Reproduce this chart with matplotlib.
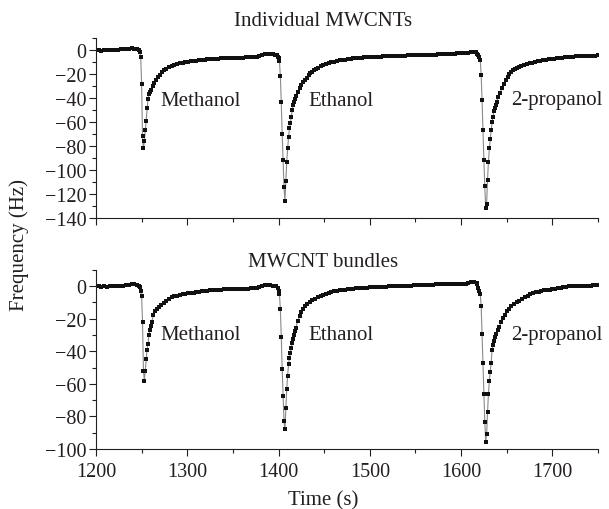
import matplotlib
matplotlib.use("Agg")
import matplotlib.pyplot as plt
from matplotlib.ticker import MultipleLocator

# frequency shift readings (time in s, frequency in Hz)
t_top = [1200, 1203, 1206, 1209, 1212, 1215, 1218, 1221, 1224, 1227, 1230, 1233, 1236, 1239, 1242, 1245,
         1247, 1248, 1249, 1250, 1251, 1252, 1253, 1254, 1255, 1256, 1257, 1258, 1259, 1260, 1262, 1264,
         1266, 1268, 1270, 1272, 1274, 1277, 1280, 1283, 1286, 1289, 1292, 1295, 1298, 1301, 1304, 1307,
         1310, 1313, 1316, 1319, 1322, 1325, 1328, 1331, 1334, 1337, 1340, 1343, 1346, 1349, 1352, 1355,
         1358, 1361, 1364, 1367, 1370, 1373, 1376, 1379, 1382, 1385, 1388, 1391, 1394, 1396, 1398, 1399,
         1400, 1401, 1402, 1403, 1404, 1405, 1406, 1407, 1408, 1409, 1410, 1411, 1412, 1413, 1414, 1415,
         1416, 1417, 1418, 1419, 1421, 1423, 1425, 1427, 1429, 1431, 1433, 1435, 1437, 1439, 1441, 1443,
         1446, 1449, 1452, 1455, 1458, 1461, 1464, 1467, 1470, 1473, 1476, 1479, 1482, 1485, 1488, 1491,
         1494, 1497, 1500, 1503, 1506, 1509, 1512, 1515, 1518, 1521, 1524, 1527, 1530, 1533, 1536, 1539,
         1542, 1545, 1548, 1551, 1554, 1557, 1560, 1563, 1566, 1569, 1572, 1575, 1578, 1581, 1584, 1587,
         1590, 1593, 1596, 1599, 1602, 1605, 1608, 1611, 1614, 1616, 1618, 1619, 1620, 1621, 1622, 1623,
         1624, 1625, 1626, 1627, 1628, 1629, 1630, 1631, 1632, 1633, 1634, 1635, 1636, 1637, 1638, 1639,
         1641, 1643, 1645, 1647, 1649, 1651, 1653, 1655, 1657, 1659, 1661, 1663, 1666, 1669, 1672, 1675,
         1678, 1681, 1684, 1687, 1690, 1693, 1696, 1699, 1702, 1705, 1708, 1711, 1714, 1717, 1720, 1723,
         1726, 1729, 1732, 1735, 1738, 1741, 1744, 1747, 1750]
f_top = [0, 0, -0.5, -0.3, 0, -0.3, 0, 0, 0.3, 0.5, 0.5, 1, 1.2, 1.5, 1.2, 0.8,
         0, -1.5, -6, -28, -72, -82, -76, -67, -59, -48, -41, -37, -35, -33, -30, -27.5,
         -25, -22.5, -20.5, -18.5, -17, -15.5, -14.3, -13.3, -12.5, -11.7, -11, -10.5, -10, -9.6, -9.3, -9,
         -8.8, -8.5, -8.3, -8, -7.8, -7.6, -7.5, -7.3, -7.2, -7, -7, -6.9, -6.8, -6.7, -6.6, -6.5,
         -6.5, -6.3, -6.2, -6.2, -6, -5.8, -5.5, -4.8, -4, -3.5, -3.4, -3.3, -3.5, -4, -4.5, -5.5,
         -7, -9.5, -21.5, -43.5, -70, -92, -114, -126, -109, -93, -82, -72.5, -65, -60.5, -55.5, -50,
         -46, -43, -40.5, -38.5, -35, -32, -29.5, -27, -25, -23, -21, -19.5, -18, -16.8, -15.7, -14.8,
         -13.5, -12.5, -11.7, -11, -10.3, -9.7, -9.2, -8.7, -8.3, -8, -7.6, -7.3, -7, -6.8, -6.6, -6.4,
         -6.2, -6.1, -6, -5.8, -5.7, -5.6, -5.5, -5.4, -5.3, -5.2, -5.1, -5, -4.9, -4.8, -4.7, -4.6,
         -4.5, -4.5, -4.4, -4.3, -4.2, -4.2, -4.1, -4, -4, -3.9, -3.8, -3.7, -3.6, -3.5, -3.4, -3.3,
         -3.2, -3, -2.9, -2.8, -2.7, -2.5, -2.3, -2, -1.8, -2, -3, -4, -5.5, -8, -20.5, -41.5,
         -67, -91.5, -113.5, -132, -128, -108, -93, -82, -74, -67, -60, -55.5, -51, -48.5, -45.5, -43,
         -39, -35.5, -31.5, -28, -25, -22.5, -20, -18.3, -17, -16, -15, -14.2, -13.3, -12.5, -11.8, -11.2,
         -10.6, -10, -9.5, -9, -8.6, -8.2, -7.8, -7.4, -7.1, -6.8, -6.6, -6.4, -6.2, -6, -5.8, -5.6,
         -5.4, -5.3, -5.1, -5, -4.9, -4.8, -4.7, -4.6, -4.5]

t_bot = [1200, 1203, 1206, 1209, 1212, 1215, 1218, 1221, 1224, 1227, 1230, 1233, 1236, 1239, 1242, 1245,
         1247, 1248, 1249, 1250, 1251, 1252, 1253, 1254, 1255, 1256, 1257, 1258, 1259, 1260, 1261, 1263,
         1265, 1267, 1269, 1271, 1274, 1277, 1280, 1283, 1286, 1289, 1292, 1295, 1298, 1301, 1304, 1307,
         1310, 1313, 1316, 1319, 1322, 1325, 1328, 1331, 1334, 1337, 1340, 1343, 1346, 1349, 1352, 1355,
         1358, 1361, 1364, 1367, 1370, 1373, 1376, 1379, 1382, 1385, 1388, 1391, 1394, 1397, 1399, 1400,
         1401, 1402, 1403, 1404, 1405, 1406, 1407, 1408, 1409, 1410, 1411, 1412, 1413, 1414, 1415, 1416,
         1417, 1418, 1419, 1421, 1423, 1425, 1427, 1429, 1431, 1434, 1437, 1440, 1443, 1446, 1449, 1452,
         1455, 1458, 1461, 1464, 1467, 1470, 1473, 1476, 1479, 1482, 1485, 1488, 1491, 1494, 1497, 1500,
         1503, 1506, 1509, 1512, 1515, 1518, 1521, 1524, 1527, 1530, 1533, 1536, 1539, 1542, 1545, 1548,
         1551, 1554, 1557, 1560, 1563, 1566, 1569, 1572, 1575, 1578, 1581, 1584, 1587, 1590, 1593, 1596,
         1599, 1602, 1605, 1608, 1611, 1614, 1617, 1618, 1619, 1620, 1621, 1622, 1623, 1624, 1625, 1626,
         1627, 1628, 1629, 1630, 1631, 1632, 1633, 1634, 1635, 1636, 1637, 1638, 1640, 1642, 1644, 1646,
         1648, 1650, 1652, 1655, 1658, 1661, 1664, 1667, 1670, 1673, 1676, 1679, 1682, 1685, 1688, 1691,
         1694, 1697, 1700, 1703, 1706, 1709, 1712, 1715, 1718, 1721, 1724, 1727, 1730, 1733, 1736, 1739,
         1742, 1745, 1748, 1750]
f_bot = [0, -0.3, -0.5, -0.3, -0.5, -0.3, 0, -0.3, 0, 0, 0.3, 0.5, 0.5, 1, 1, 0.8,
         0, -0.5, -3, -6, -22, -52, -58, -52, -45, -39, -35.5, -30, -27, -24.5, -22, -18,
         -15.5, -14, -12.8, -11.8, -10.3, -9, -7.8, -7, -6.4, -6, -5.5, -5.1, -4.8, -4.5, -4.2, -4,
         -3.7, -3.4, -3.2, -3, -2.8, -2.7, -2.5, -2.4, -2.3, -2.2, -2.1, -2, -2, -1.9, -1.8, -1.8,
         -1.7, -1.7, -1.6, -1.6, -1.5, -1.3, -1, -0.5, 0, 0.4, 0.5, 0.4, 0.3, 0, -1, -3,
         -5, -14, -31, -51, -67.5, -83, -88, -75, -63, -55, -48, -44, -41, -38, -35, -32.5,
         -30, -27.5, -25.5, -21.5, -18.5, -16, -14, -12.5, -11.2, -10, -8.8, -7.8, -6.8, -6, -5.3, -4.7,
         -4.2, -3.7, -3.3, -3, -2.7, -2.5, -2.3, -2.1, -1.9, -1.7, -1.5, -1.4, -1.3, -1.2, -1, -0.9,
         -0.8, -0.7, -0.6, -0.5, -0.5, -0.4, -0.3, -0.2, -0.1, 0, 0, 0.1, 0.2, 0.3, 0.3, 0.4,
         0.5, 0.5, 0.6, 0.6, 0.7, 0.8, 0.9, 1, 1, 1.1, 1.1, 1.2, 1.2, 1.3, 1.3, 1.4,
         1.4, 1.4, 1.5, 1.8, 2.5, 2.5, 2, 1, -1, -3, -5, -12, -29.5, -47, -66.5, -83.5,
         -95.5, -91, -77.5, -66, -58, -52.5, -47, -39, -36, -33.5, -31.5, -29.5, -27, -25, -22, -19.5,
         -17.5, -15.5, -14, -12.3, -11, -10, -9, -8, -7, -6, -5, -4.2, -3.8, -3.4, -3, -2.7,
         -2.5, -2.3, -2, -1.7, -1.4, -1.1, -0.8, -0.5, -0.3, -0.1, 0, 0, 0.1, 0.2, 0.2, 0.3,
         0.3, 0.4, 0.4, 0.4]

solvents = ['Methanol', 'Ethanol', '2-propanol']
label_t = [1271, 1433, 1655]
label_y_top = [-42, -42, -41]
label_y_bot = [-30, -30, -30]

txt = '#231f20'
plt.rcParams['font.family'] = ['Liberation Serif', 'DejaVu Serif']
plt.rcParams['font.size'] = 14.5
plt.rcParams['text.color'] = txt
plt.rcParams['axes.edgecolor'] = txt
plt.rcParams['xtick.color'] = txt
plt.rcParams['ytick.color'] = txt

fig = plt.figure(figsize=(6.09, 5.10), dpi=100)
ax1 = fig.add_axes([0.1576, 0.5706, 0.8243, 0.3529])
ax2 = fig.add_axes([0.1576, 0.1176, 0.8243, 0.3516])

panels = [(ax1, t_top, f_top, (-140, 10), label_y_top),
          (ax2, t_bot, f_bot, (-100, 10), label_y_bot)]

for ax, t, f, ylim, ly in panels:
    ax.plot(t, f, color='#8a8a8a', lw=0.8, marker='s', ms=2.8,
            mfc='#111111', mec='#111111', mew=0)
    ax.set_xlim(1200, 1750)
    ax.set_ylim(*ylim)
    ax.xaxis.set_major_locator(MultipleLocator(100))
    ax.xaxis.set_minor_locator(MultipleLocator(50))
    ax.yaxis.set_major_locator(MultipleLocator(20))
    ax.yaxis.set_minor_locator(MultipleLocator(10))
    ax.tick_params(which='major', length=5, width=0.8, direction='out')
    ax.tick_params(which='minor', length=3, width=0.8, direction='out')
    ax.tick_params(axis='x', pad=4)
    ax.tick_params(axis='y', pad=2)
    for s in ['top', 'right']:
        ax.spines[s].set_visible(False)
    for s in ['left', 'bottom']:
        ax.spines[s].set_linewidth(0.8)
    for name, x, y in zip(solvents, label_t, ly):
        ax.text(x, y, name, ha='left', va='center', fontsize=15)

ax1.tick_params(axis='x', labelbottom=False)

fig.text(0.530, 0.957, 'Individual MWCNTs', ha='center', va='center', fontsize=15)
fig.text(0.530, 0.486, 'MWCNT bundles', ha='center', va='center', fontsize=15)
fig.text(0.530, 0.018, 'Time (s)', ha='center', va='center', fontsize=15)
fig.text(0.031, 0.52, 'Frequency (Hz)', ha='center', va='center', rotation=90, fontsize=15)

plt.savefig('out.png', dpi=100)
